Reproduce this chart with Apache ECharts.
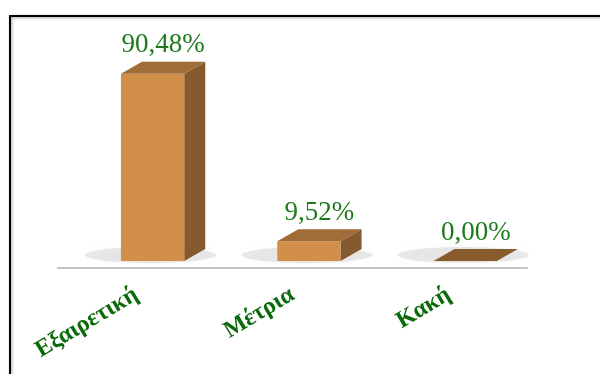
<!DOCTYPE html>
<html><head><meta charset="utf-8">
<script src="https://cdn.jsdelivr.net/npm/echarts@6/dist/echarts.min.js"></script>
<style>html,body{margin:0;padding:0;background:#fff}#c{width:600px;height:374px}</style>
</head><body><div id="c"></div>
<script>
const categories = ['Εξαιρετική', 'Μέτρια', 'Κακή'];
const values = [90.48, 9.52, 0.00];

const chart = echarts.init(document.getElementById('c'), null, {renderer: 'canvas'});

function fmt(v) { return v.toFixed(2).replace('.', ',') + '%'; }

function renderItem(params, api) {
  const i = api.value(0), v = api.value(1);
  const base = api.coord([i, 0]);
  const top = api.coord([i, v]);
  const bw = api.size([1, 0])[0];
  const w = bw * 0.405;
  const cx = base[0] + bw * 0.105;
  const x0 = cx - w / 2, x1 = cx + w / 2;
  const yb = base[1] - 7, yt = top[1] - 7;
  const dx = 21, dy = 12;
  const children = [];
  // soft floor shadow
  children.push({
    type: 'ellipse',
    shape: {cx: cx - 2, cy: yb - 6, rx: w / 2 + 34, ry: 8},
    style: {fill: 'rgba(0,0,0,0.09)', shadowBlur: 16, shadowColor: 'rgba(0,0,0,0.3)'},
    silent: true
  });
  if (yb - yt > 0.5) {
    children.push({
      type: 'polygon',
      shape: {points: [[x1, yt], [x1 + dx, yt - dy], [x1 + dx, yb - dy], [x1, yb]]},
      style: {fill: '#845a2e'}
    });
    children.push({
      type: 'rect',
      shape: {x: x0, y: yt, width: w, height: yb - yt},
      style: {fill: '#d18f4a'}
    });
    children.push({
      type: 'polygon',
      shape: {points: [[x0, yt], [x0 + dx, yt - dy], [x1 + dx, yt - dy], [x1, yt]]},
      style: {fill: '#a06c37'}
    });
  } else {
    children.push({
      type: 'polygon',
      shape: {points: [[x0, yt], [x0 + dx, yt - dy], [x1 + dx, yt - dy], [x1, yt]]},
      style: {fill: '#875b2d'}
    });
  }
  children.push({
    type: 'text',
    style: {
      x: cx + dx / 2, y: yt - dy - 3,
      text: fmt(v), align: 'center', verticalAlign: 'bottom',
      font: '27px "Liberation Serif", "DejaVu Serif", serif',
      fill: '#1d7a1d'
    }
  });
  return {type: 'group', children: children};
}

chart.setOption({
  animation: false,
  graphic: [{
    type: 'rect',
    shape: {x: 10, y: 16, width: 700, height: 500},
    style: {fill: 'none', stroke: '#000', lineWidth: 2, shadowBlur: 3, shadowColor: 'rgba(0,0,0,0.4)', shadowOffsetX: 1, shadowOffsetY: 1},
    silent: true, z: 10
  }],
  grid: {left: 58, right: 73, top: 61, bottom: 106},
  xAxis: {
    type: 'category',
    data: categories,
    axisLine: {lineStyle: {color: '#c4c4c4', width: 2}},
    axisTick: {show: false},
    axisLabel: {
      rotate: 31, margin: 25, interval: 0,
      color: '#0b6b0b', fontWeight: 'bold', fontSize: 24,
      fontFamily: '"Liberation Serif", "DejaVu Serif", serif'
    }
  },
  yAxis: {type: 'value', min: 0, max: 100, show: false, splitLine: {show: false}},
  series: [{
    type: 'custom',
    renderItem: renderItem,
    data: values.map((v, i) => [i, v]),
    encode: {x: 0, y: 1}
  }]
});
</script>
</body></html>
